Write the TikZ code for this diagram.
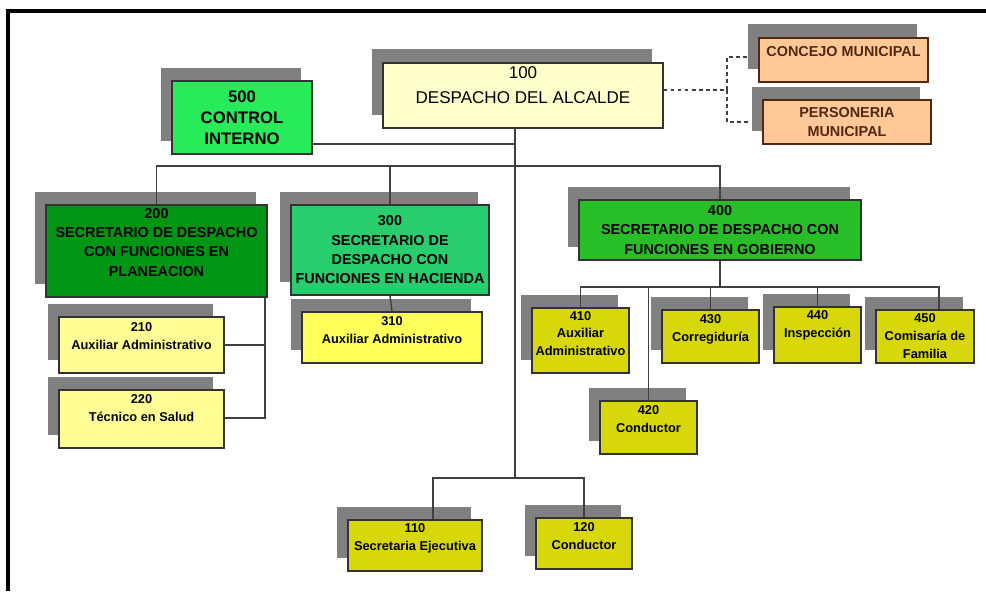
\documentclass[tikz,border=0pt]{standalone}
\usepackage{fontspec}
\setmainfont{Liberation Sans}
\usepackage{tikz}
\usetikzlibrary{calc,shadows}

\definecolor{sombra}{RGB}{128,128,128}
\definecolor{crema}{RGB}{255,255,204}
\definecolor{verdelima}{RGB}{40,235,90}
\definecolor{verdeosc}{RGB}{0,150,20}
\definecolor{verdemar}{RGB}{40,205,110}
\definecolor{verdemed}{RGB}{40,190,40}
\definecolor{durazno}{RGB}{255,200,150}
\definecolor{cafe}{RGB}{80,40,20}
\definecolor{amarclaro}{RGB}{255,255,150}
\definecolor{amarillo}{RGB}{255,255,90}
\definecolor{oliva}{RGB}{215,215,10}

\newcommand{\letgrande}{\fontsize{9.7}{14}\selectfont}
\newcommand{\letmedia}{\bfseries\fontsize{8.2}{11}\selectfont}
\newcommand{\letchica}{\bfseries\fontsize{7.3}{10.2}\selectfont}

\tikzset{
	caja/.style={draw=black!80, line width=1pt, align=center, inner sep=1pt,
		drop shadow={shadow xshift=-0.23cm, shadow yshift=0.27cm, fill=sombra, opacity=1}},
	tam/.style 2 args={minimum width=#1*0.02cm, minimum height=#2*0.02cm},
	sube/.style={text depth=#1},
	linea/.style={draw=black!75, line width=0.8pt},
	punteada/.style={linea, dash pattern=on 2pt off 2pt},
}

\begin{document}
\begin{tikzpicture}[x=0.02cm,y=-0.02cm]
	\useasboundingbox (0,0) rectangle (986,591);
	\draw[line width=1.8pt] (8,591) -- (8,11) -- (986,11);
	
	\node[caja,tam={280}{65},fill=crema,font=\letgrande,sube=12pt] (100)at(523,95.5) {100\\DESPACHO DEL ALCALDE};
	\node[caja,tam={140}{73},fill=verdelima,font=\bfseries\fontsize{9.5}{12}\selectfont] (500)at(242,117.5) {500\\CONTROL\\INTERNO};
	\node[caja,tam={169}{44},fill=durazno,draw=cafe,text=cafe,font=\letmedia,sube=10pt] (cm)at(843.5,60) {CONCEJO MUNICIPAL};
	\node[caja,tam={168}{44},fill=durazno,draw=cafe,text=cafe,font=\letmedia] (pm)at(847,122) {PERSONERIA\\MUNICIPAL};
	
	\node[caja,tam={221}{92},fill=verdeosc,font=\letmedia,sube=10pt] (200)at(156.5,251) {200\\SECRETARIO DE DESPACHO\\CON FUNCIONES EN\\PLANEACION};
	\node[caja,tam={198}{90},fill=verdemar,font=\letmedia] (300)at(390,250) {300\\SECRETARIO DE\\DESPACHO CON\\FUNCIONES EN HACIENDA};
	\node[caja,tam={282}{60},fill=verdemed,font=\letmedia] (400)at(720,230) {400\\SECRETARIO DE DESPACHO CON\\FUNCIONES EN GOBIERNO};
	
	\node[caja,tam={165}{56},fill=amarclaro,font=\letchica,sube=10.5pt] (210)at(141.5,345) {210\\Auxiliar Administrativo};
	\node[caja,tam={165}{58},fill=amarclaro,font=\letchica,sube=12.5pt] (220)at(141.5,419) {220\\Técnico en Salud};
	\node[caja,tam={180}{51},fill=amarillo,font=\letchica,sube=8pt] (310)at(392,337.5) {310\\Auxiliar Administrativo};
	
	\node[caja,tam={97}{65},fill=oliva,font=\letchica,sube=8pt] (410)at(580.5,340.5) {410\\Auxiliar\\Administrativo};
	\node[caja,tam={97}{53},fill=oliva,font=\letchica,sube=9.4pt] (420)at(648.5,427.5) {420\\Conductor};
	\node[caja,tam={97}{53},fill=oliva,font=\letchica,sube=9.4pt] (430)at(710.5,336.5) {430\\Corregiduría};
	\node[caja,tam={87}{56},fill=oliva,font=\letchica,sube=12pt] (440)at(817.5,335) {440\\Inspección};
	\node[caja,tam={98}{53},fill=oliva,font=\letchica] (450)at(925,336.5) {450\\Comisaría de\\Familia};
	
	\node[caja,tam={134}{51},fill=oliva,font=\letchica,sube=9.4pt] (110)at(415,545.5) {110\\Secretaria Ejecutiva};
	\node[caja,tam={96}{51},fill=oliva,font=\letchica,sube=9pt] (120)at(584,543.5) {120\\Conductor};
	
	\coordinate (t1) at (515,166);
	\coordinate (t2) at (515,478);
	\coordinate (t5) at (515,144);
	\coordinate (b2) at (265,418);
	\coordinate (b4) at (720,287);
	\coordinate (b45) at (939,287);
	\coordinate (d) at (727,90);
	
	\draw[linea] (100.south -| t1) -- (t2);
	\draw[linea] (500.east |- t5) -- (t5);
	\draw[linea] (200.north) |- (t1) -| (400.north);
	\draw[linea] (300.north) -- (300.north |- t1);
	\draw[linea] (300.south) -- (310.north);
	\draw[linea] (200.south -| b2) -- (b2) -- (220.east |- b2);
	\draw[linea] (210.east) -- (210.east -| b2);
	\draw[linea] (400.south) -- (400.south |- b4);
	\draw[linea] (410.north) |- (b45) -- (b45 |- 450.north);
	\foreach \n in {420,430,440}
		\draw[linea] (\n.north) -- (\n.north |- b4);
	\draw[linea] (t2) -| (120.north);
	\draw[linea] (t2) -| ($(110.north)+(18,0)$);
	
	\draw[punteada] (100.east |- d) -- (d);
	\draw[punteada] (d) |- ($(cm.west)+(-11,-3)$);
	\draw[punteada] (d) |- ($(pm.west)+(-12,0)$);
\end{tikzpicture}
\end{document}
